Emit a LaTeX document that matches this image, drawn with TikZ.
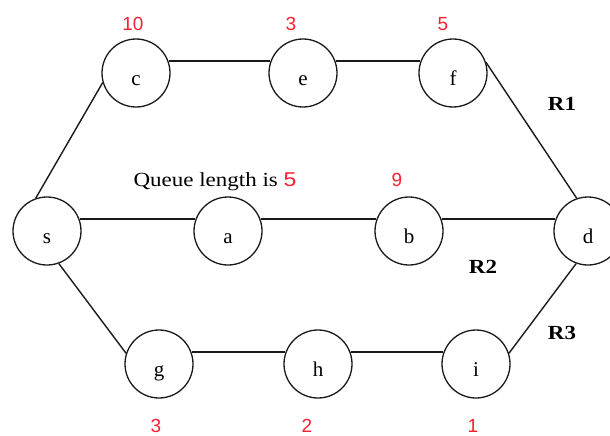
\documentclass[tikz,border=0pt]{standalone}
\usepackage{graphicx}
\usepackage{fontspec}
\setmainfont{Liberation Serif}
\newfontfamily\numfont{Liberation Sans}
\definecolor{numred}{RGB}{250,30,50}
\definecolor{inkc}{RGB}{25,25,25}
\newcommand{\stx}[1]{\scalebox{1.15}[1]{#1}}
\begin{document}
\begin{tikzpicture}[x=1pt,y=-1pt,
  router/.style={circle, draw=inkc, line width=1.3pt, minimum size=68pt, inner sep=0pt,
    font=\fontsize{21}{24}\selectfont, text height=25pt, text depth=0pt},
  link/.style={line width=1.4pt, draw=inkc},
  qnum/.style={font=\numfont\fontsize{19}{22}\selectfont, text=numred, inner sep=0pt, anchor=base},
  rlabel/.style={font=\bfseries\fontsize{20}{23}\selectfont, inner sep=0pt, anchor=base},
  note/.style={font=\fontsize{20}{23}\selectfont, inner sep=0pt, anchor=base}]
\useasboundingbox (0,0) rectangle (610,436);
% routers
\node[router] (c) at (136,73) {c};
\node[router] (e) at (303,73) {e};
\node[router] (f) at (453,73) {f};
\node[router] (s) at (47,231) {s};
\node[router] (a) at (228,231) {a};
\node[router] (b) at (409,231) {b};
\node[router] (d) at (588,231) {d};
\node[router] (g) at (159,364) {g};
\node[router] (h) at (318,364) {h};
\node[router] (i) at (476,364) {i};
% links
\draw[link] (s.109) -- (c.196);
\draw[link] (c.20) -- (e.160);
\draw[link] (e.20) -- (f.160);
\draw[link] (f.18) -- (d.109);
\draw[link] (s.20) -- (a.160);
\draw[link] (a.20) -- (b.160);
\draw[link] (b.20) -- (d.160);
\draw[link] (s.290) -- (g.162);
\draw[link] (g.20) -- (h.160);
\draw[link] (h.20) -- (i.160);
\draw[link] (i.18) -- (d.250);
% queue lengths
\node[qnum] (qc) at (133,31) {10};
\node[qnum] (qe) at (291,31) {3};
\node[qnum] (qf) at (443,31) {5};
\node[note] (qa) at (215,186) {\stx{Queue length is {\numfont\color{numred}5}}};
\node[qnum] (qb) at (397,186) {9};
\node[qnum] (qg) at (156,432) {3};
\node[qnum] (qh) at (307,432) {2};
\node[qnum] (qi) at (473,432) {1};
% route labels
\node[rlabel] (r1) at (562,110) {\stx{R1}};
\node[rlabel] (r2) at (483,273) {\stx{R2}};
\node[rlabel] (r3) at (562,339) {\stx{R3}};
\end{tikzpicture}
\end{document}
